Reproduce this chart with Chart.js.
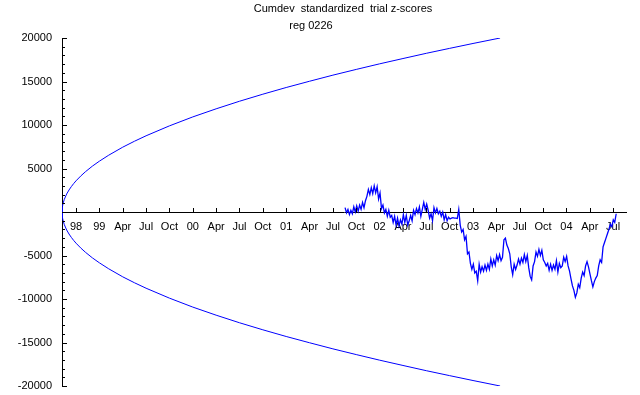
<!DOCTYPE html>
<html><head><meta charset="utf-8">
<script src="https://cdn.jsdelivr.net/npm/chart.js@4"></script>
<style>html,body{margin:0;padding:0;background:#fff}</style>
</head><body>
<canvas id="c" width="640" height="395"></canvas>
<script>
const titleLine1 = 'Cumdev  standardized  trial z-scores';
const titleLine2 = 'reg 0226';
const quarterLabels = ['98','99','Apr','Jul','Oct','00','Apr','Jul','Oct','01','Apr','Jul','Oct','02','Apr','Jul','Oct','03','Apr','Jul','Oct','04','Apr','Jul'];
const yTickValues = [-20000,-15000,-10000,-5000,5000,10000,15000,20000];
// envelope, x in quarters from the "98" tick
const envX = [-0.6,-0.58,-0.55,-0.5,-0.4,-0.3,-0.2,-0.1,0,0.2,0.4,0.7,1,1.4,2,2.5,3,4,5,6,7,8,9,10,11,12,13,14,15,16,17,18.16];
const envUpper = [0,650,1030,1460,2070,2530,2920,3270,3580,4130,4620,5270,5840,6530,7450,8130,8760,9900,10930,11860,12730,13540,14310,15030,15730,16390,17030,17640,18240,18810,19370,20000];
const envLower = [0,-650,-1030,-1460,-2070,-2530,-2920,-3270,-3580,-4130,-4620,-5270,-5840,-6530,-7450,-8130,-8760,-9900,-10930,-11860,-12730,-13540,-14310,-15030,-15730,-16390,-17030,-17640,-18240,-18810,-19370,-20000];
// cumulative deviation, evenly spaced in time from cumStart to cumEnd (quarters)
const cumStart = 11.52;
const cumEnd = 23.13;
const cumdev = [500,-100,300,-300,200,-200,600,0,700,100,800,
300,1100,500,1300,
1800,2600,2000,
2800,2100,3000,2200,2900,
1500,2200,
400,800,-100,
300,-500,200,-600,
-400,-1200,-500,
-1500,-700,-1600,-900,-1400,
-300,-1200,-400,
-1500,-1000,
-400,-1000,
200,-300,400,-100,
600,-500,300,
1100,300,900,200,
-700,-200,-1000,
500,-100,400,
-200,100,-500,0,
-900,-300,-1000,-600,-800,
-700,-650,-700,-700,-750,
300,
-1500,-2300,
-2000,-3200,-2800,
-4800,-4600,
-5900,-6600,-6000,-7000,
-6800,-7900,
-6000,-6900,-6300,-6800,-6100,
-6700,-6000,-6600,
-5400,-6200,-5500,-6100,
-5000,-5600,-4900,
-5600,-5200,
-3200,-3000,-3800,
-4200,-4800,
-6300,-7200,
-6000,-6600,-6100,
-5400,-6000,-5300,-5800,
-4900,-5700,-5000,
-6400,-7400,-7800,
-6200,-5700,
-4600,-5100,-4300,
-5000,-4400,-5500,-5800,
-6200,-5900,-6700,
-6000,-6700,-6100,-6600,
-5600,-6900,-5900,
-6400,-6200,
-5200,-5700,-5100,
-6200,-6800,
-7700,-8500,
-9000,-9800,-9300,
-8300,-8700,
-7600,-6900,-7300,
-6200,-5700,-6300,
-7100,
-7900,-8600,-8000,
-7600,-7300,
-6200,-5500,-5800,
-4000,-3500,-3000,-2500,-2000,-1400,-1700,-900,-1200,-200];

const FONT = '"Liberation Sans", Arial, sans-serif';
const BLUE = '#0000ff';
const step = (cumEnd - cumStart) / (cumdev.length - 1);
const cumPts = cumdev.map((v, i) => ({x: cumStart + i * step, y: v}));
const upPts = envX.map((x, i) => ({x, y: envUpper[i]}));
const loPts = envX.map((x, i) => ({x, y: envLower[i]}));

const decor = {
  id: 'decor',
  afterDraw(chart) {
    const ctx = chart.ctx, xs = chart.scales.x, ys = chart.scales.y;
    ctx.save();
    ctx.fillStyle = '#000';
    ctx.font = '11px ' + FONT;
    ctx.textAlign = 'center';
    ctx.textBaseline = 'alphabetic';
    ctx.fillText(titleLine1, 343, 12);
    ctx.fillText(titleLine2, 311, 29);
    ctx.strokeStyle = '#000';
    ctx.lineWidth = 1;
    ctx.beginPath();
    const y0 = Math.round(ys.getPixelForValue(0));
    quarterLabels.forEach((l, i) => {
      const px = Math.round(xs.getPixelForValue(i)) + 0.5;
      ctx.moveTo(px, y0 - 4); ctx.lineTo(px, y0);
    });
    const left = Math.round(chart.chartArea.left);
    for (let v = -20000; v <= 20000; v += 1000) {
      const py = Math.round(ys.getPixelForValue(v)) + 0.5;
      const len = (v % 5000 === 0) ? 5 : 3;
      ctx.moveTo(left, py); ctx.lineTo(left + len, py);
    }
    ctx.stroke();
    ctx.restore();
  }
};

new Chart(document.getElementById('c'), {
  type: 'scatter',
  data: {datasets: [
    {data: upPts, showLine: true, borderColor: BLUE, borderWidth: 1, pointRadius: 0, tension: 0},
    {data: loPts, showLine: true, borderColor: BLUE, borderWidth: 1, pointRadius: 0, tension: 0},
    {data: cumPts, showLine: true, borderColor: BLUE, borderWidth: 1.3, pointRadius: 0, tension: 0}
  ]},
  options: {
    responsive: false, animation: false, devicePixelRatio: 1,
    layout: {padding: {left: 0, right: 14, top: 38, bottom: 9}},
    plugins: {legend: {display: false}, tooltip: {enabled: false}, title: {display: false}},
    scales: {
      x: {
        type: 'linear', min: -0.6, max: 23.55, position: {y: 0},
        grid: {display: false, drawTicks: false},
        border: {display: true, color: '#000', width: 1},
        afterFit: s => { s.height = 0; s.paddingLeft = 0; s.paddingRight = 0; },
        afterBuildTicks: s => { s.ticks = quarterLabels.map((l, i) => ({value: i})); },
        ticks: {autoSkip: false, maxRotation: 0, padding: 8, color: '#000', font: {size: 11, family: FONT},
          callback: v => quarterLabels[Math.round(v)] ?? ''}
      },
      y: {
        type: 'linear', min: -20000, max: 20000, position: 'left',
        grid: {display: false, drawTicks: false},
        border: {display: true, color: '#000', width: 1},
        afterFit: s => { s.width = 62; s.paddingTop = 0; s.paddingBottom = 0; },
        afterBuildTicks: s => { s.ticks = yTickValues.map(v => ({value: v})); },
        ticks: {padding: 10, color: '#000', font: {size: 11, family: FONT}, callback: v => String(v)}
      }
    }
  },
  plugins: [decor]
});
</script>
</body></html>
